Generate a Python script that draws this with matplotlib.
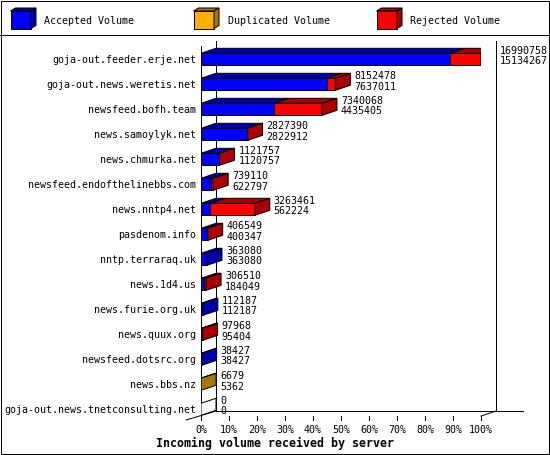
import matplotlib
matplotlib.use("Agg")
import matplotlib.pyplot as plt
from matplotlib.patches import Polygon, Rectangle

# Incoming volume per feeding server (bytes), ordered as in the report
hosts = [
    "goja-out.feeder.erje.net",
    "goja-out.news.weretis.net",
    "newsfeed.bofh.team",
    "news.samoylyk.net",
    "news.chmurka.net",
    "newsfeed.endofthelinebbs.com",
    "news.nntp4.net",
    "pasdenom.info",
    "nntp.terraraq.uk",
    "news.1d4.us",
    "news.furie.org.uk",
    "news.quux.org",
    "newsfeed.dotsrc.org",
    "news.bbs.nz",
    "goja-out.news.tnetconsulting.net",
]
total_volume = [16990758, 8152478, 7340068, 2827390, 1121757, 739110, 3263461,
                406549, 363080, 306510, 112187, 97968, 38427, 6679, 0]
accepted_volume = [15134267, 7637011, 4435405, 2822912, 1120757, 622797, 562224,
                   400347, 363080, 184049, 112187, 95404, 38427, 5362, 0]
duplicated_volume = [0, 0, 0, 0, 0, 0, 0, 0, 0, 0, 0, 0, 0, 1317, 0]
rejected_volume = [1856491, 515467, 2904663, 4478, 1000, 116313, 2701237,
                   6202, 0, 122461, 0, 2564, 0, 0, 0]

series_names = ["Accepted Volume", "Duplicated Volume", "Rejected Volume"]
series_values = [accepted_volume, duplicated_volume, rejected_volume]
front_colors = ["#0000FF", "#FFAF00", "#FF0000"]
dark_colors = ["#0000AA", "#AA7500", "#AA0000"]

tick_pcts = [0, 10, 20, 30, 40, 50, 60, 70, 80, 90, 100]
x_title = "Incoming volume received by server"

W, H = 550, 455
LW = 0.72  # 1 px
MONO = "DejaVu Sans Mono"

fig = plt.figure(figsize=(W / 100, H / 100), dpi=100)

# frame / legend overlay in pixel coordinates
frame_ax = fig.add_axes([0, 0, 1, 1])
frame_ax.set_xlim(0, W)
frame_ax.set_ylim(H, 0)
frame_ax.axis("off")
frame_ax.add_patch(Rectangle((0.5, 0.5), W - 1.5, H - 1.5, fill=False,
                             edgecolor="black", lw=LW))
frame_ax.plot([0, W], [34.5, 34.5], color="black", lw=LW)

# legend with little 3D boxes
for k, name in enumerate(series_names):
    bx = 10.5 + 183 * k
    by, bw, bh, d, e = 11, 20.5, 17.5, 5, 3
    frame_ax.add_patch(Rectangle((bx, by), bw, bh, facecolor=front_colors[k],
                                 edgecolor="black", lw=LW))
    frame_ax.add_patch(Polygon([(bx, by), (bx + d, by - e), (bx + bw + d, by - e),
                                (bx + bw, by)], facecolor=dark_colors[k],
                               edgecolor="black", lw=LW))
    frame_ax.add_patch(Polygon([(bx + bw, by), (bx + bw + d, by - e),
                                (bx + bw + d, by + bh - e), (bx + bw, by + bh)],
                               facecolor=dark_colors[k], edgecolor="black", lw=LW))
    frame_ax.text(bx + 34, 20, name, family=MONO, fontsize=7.2,
                  ha="left", va="center_baseline")

# main chart: x in percent of the largest server, y in bar index
n = len(hosts)
ax = fig.add_axes([201 / W, 1 - 421.8 / H, 280 / W, 375 / H])
ax.set_xlim(0, 100)
ax.set_ylim(n - 0.5, -0.5)
ax.axis("off")

px_x = 100 / 280.0
px_y = 1 / 25.0
dx = 15 * px_x
dy = 5 * px_y
bar_h = 12 * px_y

vmax = max(total_volume)
left = [0.0] * n
last_color = ["white"] * n
for k, vals in enumerate(series_values):
    widths = [v / vmax * 100 for v in vals]
    bars = ax.barh(range(n), widths, left=left, height=bar_h,
                   color=front_colors[k], edgecolor="black", lw=LW, zorder=2)
    for i, (rect, w) in enumerate(zip(bars, widths)):
        if w <= 0:
            rect.set_visible(False)
            continue
        x0, x1 = left[i], left[i] + w
        yt = i - bar_h / 2
        ax.add_patch(Polygon([(x0, yt), (x0 + dx, yt - dy), (x1 + dx, yt - dy),
                              (x1, yt)], facecolor=dark_colors[k],
                             edgecolor="black", lw=LW, zorder=2))
        last_color[i] = dark_colors[k]
    left = [a + w for a, w in zip(left, widths)]

for i in range(n):
    x1 = left[i]
    yt, yb = i - bar_h / 2, i + bar_h / 2
    ax.add_patch(Polygon([(x1, yt), (x1 + dx, yt - dy), (x1 + dx, yb - dy),
                          (x1, yb)], facecolor=last_color[i],
                         edgecolor="black", lw=LW, zorder=3))
    ax.annotate(str(total_volume[i]), (x1 + dx, i), xytext=(4, 9.7),
                textcoords="offset pixels", family=MONO, fontsize=7.2,
                ha="left", va="center_baseline", annotation_clip=False)
    ax.annotate(str(accepted_volume[i]), (x1 + dx, i), xytext=(4, -1.2),
                textcoords="offset pixels", family=MONO, fontsize=7.2,
                ha="left", va="center_baseline", annotation_clip=False)
    ax.annotate(hosts[i], (0, i), xytext=(-5, 0), textcoords="offset pixels",
                family=MONO, fontsize=7.2, ha="right", va="center_baseline",
                annotation_clip=False)

# walls and floor
y_top = -0.53
floor = n - 1 + bar_h / 2 + 0.03
line_kw = dict(color="black", lw=LW, clip_on=False, zorder=1)
ax.plot([0, 0], [y_top, floor], **line_kw)
ax.plot([dx, dx], [y_top - dy, floor - dy], **line_kw)
ax.plot([100 + dx, 100 + dx], [y_top - dy, floor - dy], **line_kw)
ax.plot([dx, 115], [floor - dy, floor - dy], **line_kw)
ax.plot([-dx, dx], [floor + dy * 0.8, floor - dy], **line_kw)
ax.plot([100, 100 + dx], [floor, floor - dy], **line_kw)
for p in tick_pcts:
    ax.plot([p, p], [floor, floor + 4 * px_y], **line_kw)
    ax.text(p, floor + 13 * px_y, f"{p}%", family=MONO, fontsize=7.2,
            ha="center", va="center_baseline")

fig.text(0.5, 1 - 441.7 / H, x_title, family=MONO, fontsize=8.4,
         fontweight="bold", ha="center", va="center_baseline")

fig.savefig("out.png", dpi=100)
